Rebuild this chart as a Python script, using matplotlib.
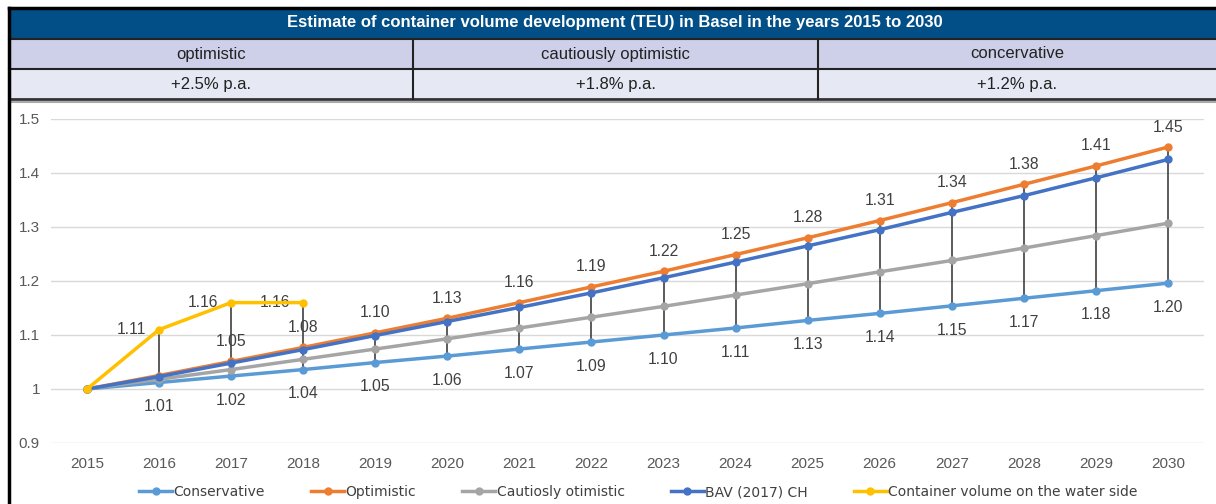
import matplotlib
matplotlib.use("Agg")
import matplotlib.pyplot as plt
from matplotlib.patches import Rectangle
import numpy as np

plt.rcParams["font.family"] = ["Liberation Sans", "DejaVu Sans"]

years = [str(y) for y in range(2015, 2031)]
conservative = [1.0, 1.012, 1.024, 1.036, 1.049, 1.061, 1.074, 1.087, 1.100, 1.113, 1.127, 1.140, 1.154, 1.168, 1.182, 1.196]
optimistic = [1.0, 1.025, 1.051, 1.077, 1.104, 1.131, 1.160, 1.189, 1.218, 1.249, 1.280, 1.312, 1.345, 1.379, 1.413, 1.448]
cautious = [1.0, 1.018, 1.036, 1.055, 1.074, 1.093, 1.113, 1.133, 1.153, 1.174, 1.195, 1.217, 1.238, 1.261, 1.284, 1.307]
bav = [1.0, 1.023, 1.048, 1.073, 1.099, 1.125, 1.151, 1.178, 1.206, 1.235, 1.265, 1.295, 1.327, 1.358, 1.391, 1.425]
water_years = ["2015", "2016", "2017", "2018"]
water = [1.0, 1.11, 1.16, 1.16]

title = "Estimate of container volume development (TEU) in Basel in the years 2015 to 2030"
scenarios = ["optimistic", "cautiously optimistic", "concervative"]
rates = ["+2.5% p.a.", "+1.8% p.a.", "+1.2% p.a."]

fig = plt.figure(figsize=(12.16, 5.04), dpi=100)

# header table drawn in pixel coords
hdr = fig.add_axes([0, 0, 1, 1])
hdr.set_xlim(0, 1216)
hdr.set_ylim(504, 0)
hdr.axis("off")
hdr.add_patch(Rectangle((9, 8), 1210, 31, facecolor="#024E86", edgecolor="none"))
hdr.add_patch(Rectangle((9, 39), 1210, 30, facecolor="#CDD0E8", edgecolor="none"))
hdr.add_patch(Rectangle((9, 69), 1210, 30, facecolor="#E6E8F4", edgecolor="none"))
hdr.plot([9, 1216], [8, 8], color="black", lw=2.5)
hdr.plot([9, 1216], [39, 39], color="#222222", lw=1.5)
hdr.plot([9, 1216], [69, 69], color="#222222", lw=1.5)
hdr.plot([9, 1216], [99, 99], color="#333333", lw=2)
hdr.plot([9, 1216], [101.5, 101.5], color="#AAAAAA", lw=1.5)
hdr.plot([9, 9], [8, 504], color="black", lw=2.5)
for xd in [413, 818]:
    hdr.plot([xd, xd], [39, 99], color="#222222", lw=1.5)
hdr.text(615, 23, title, color="white", fontsize=12, fontweight="bold", ha="center", va="center")
centers = [211, 615.5, 1017]
for cx, s, r in zip(centers, scenarios, rates):
    hdr.text(cx, 54, s, fontsize=12, color="#222222", ha="center", va="center")
    hdr.text(cx, 84, r, fontsize=12, color="#222222", ha="center", va="center")

ax = fig.add_axes([51 / 1216, 61 / 504, 1153 / 1216, 324 / 504])
x = np.arange(len(years))
xw = np.arange(len(water_years))

series = [
    ("Conservative", conservative, "#5B9BD5"),
    ("Optimistic", optimistic, "#ED7D31"),
    ("Cautiosly otimistic", cautious, "#A5A5A5"),
    ("BAV (2017) CH", bav, "#4472C4"),
]

# high-low lines
hi = np.array(optimistic)
lo = np.array(conservative)
hi[:len(water)] = np.maximum(hi[:len(water)], water)
ax.vlines(x[1:], lo[1:], hi[1:], color="#404040", lw=1.2, zorder=2)

for name, vals, col in series:
    ax.plot(x, vals, color=col, lw=2.5, marker="o", ms=5, label=name, zorder=3)
ax.plot(xw, water, color="#FFC000", lw=2.5, marker="o", ms=5,
        label="Container volume on the water side", zorder=4)

lab_kw = dict(fontsize=11.3, color="#404040", ha="center")
for i in range(1, len(years)):
    ax.annotate(f"{conservative[i]:.2f}", (x[i], conservative[i]), xytext=(0, -12),
                textcoords="offset points", va="top", **lab_kw)
    if i >= 2:
        ax.annotate(f"{optimistic[i]:.2f}", (x[i], optimistic[i]), xytext=(0, 9),
                    textcoords="offset points", va="bottom", **lab_kw)
for i in range(1, len(water)):
    ax.annotate(f"{water[i]:.2f}", (xw[i], water[i]), xytext=(-9, 0),
                textcoords="offset points", va="center", fontsize=11.3,
                color="#404040", ha="right")

ax.set_xlim(-0.5, len(years) - 0.5)
ax.set_ylim(0.9, 1.5)
ax.set_xticks(x)
ax.set_xticklabels(years)
ax.set_yticks([0.9, 1.0, 1.1, 1.2, 1.3, 1.4, 1.5])
ax.set_yticklabels(["0.9", "1", "1.1", "1.2", "1.3", "1.4", "1.5"])
ax.tick_params(axis="both", length=0, labelsize=11, labelcolor="#595959")
ax.tick_params(axis="x", pad=10)
ax.tick_params(axis="y", pad=8)
ax.grid(axis="y", color="#D9D9D9", lw=1)
ax.set_axisbelow(True)
for sp in ax.spines.values():
    sp.set_visible(False)

fig.legend(loc="center", bbox_to_anchor=(0.525, 12 / 504), ncol=5, frameon=False,
           labelcolor="#404040", handlelength=2.4, handletextpad=0.1,
           columnspacing=3.3, prop={"family": ["Liberation Sans Narrow", "DejaVu Sans"], "size": 10})

fig.savefig("out.png", dpi=100)
